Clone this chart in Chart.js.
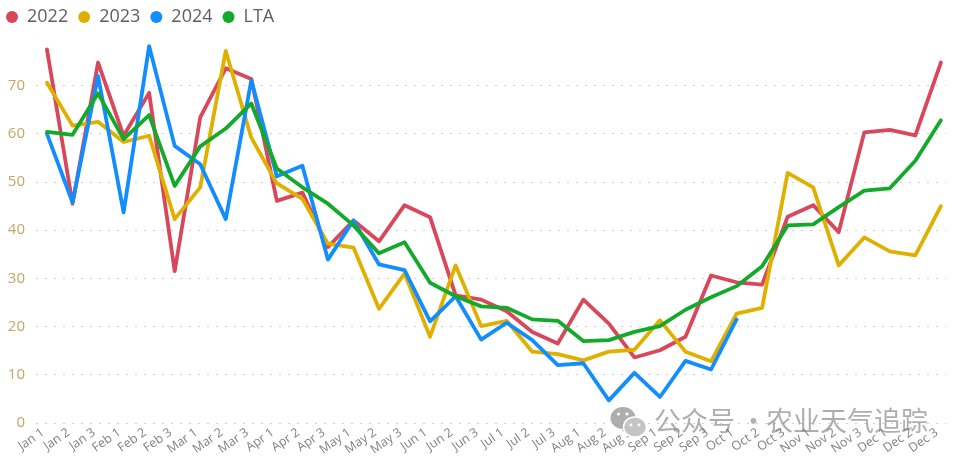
<!DOCTYPE html>
<html>
<head>
<meta charset="utf-8">
<style>
  body { margin: 0; background: #fff; }
  #wrap { position: relative; width: 960px; height: 460px; overflow: hidden; }
  #mark { position: absolute; left: 610px; top: 402px; height: 36px; width: 340px; color: rgba(120,120,120,.6);
          font: 27px "Noto Sans CJK SC", sans-serif; line-height: 36px; white-space: nowrap; }
  #mark svg { position: absolute; left: 0; top: 2px; }
  #mark span { position: absolute; top: 0; }
</style>
<script src="https://cdn.jsdelivr.net/npm/chart.js@4/dist/chart.umd.js"></script>
</head>
<body>
<div id="wrap">
  <canvas id="chartCanvas" width="960" height="460"></canvas>
  <div id="mark">
    <svg width="42" height="34" viewBox="0 0 42 34">
      <ellipse cx="13" cy="14" rx="12.5" ry="11" fill="rgba(130,130,130,.65)"/>
      <ellipse cx="25" cy="23" rx="11.5" ry="10" fill="#c4c4c4" stroke="#fff" stroke-width="1.5"/>
      <circle cx="8.5" cy="10" r="1.6" fill="#fff"/><circle cx="17" cy="10" r="1.6" fill="#fff"/>
      <circle cx="21" cy="21" r="1.4" fill="#fff"/><circle cx="29" cy="21" r="1.4" fill="#fff"/>
    </svg>
    <span style="left:44px">公众号</span><span style="left:130px">·</span><span style="left:156px">农业天气追踪</span>
  </div>
</div>
<script>
const weeks = ['Jan 1','Jan 2','Jan 3','Feb 1','Feb 2','Feb 3','Mar 1','Mar 2','Mar 3','Apr 1','Apr 2','Apr 3',
  'May 1','May 2','May 3','Jun 1','Jun 2','Jun 3','Jul 1','Jul 2','Jul 3','Aug 1','Aug 2','Aug 3',
  'Sep 1','Sep 2','Sep 3','Oct 1','Oct 2','Oct 3','Nov 1','Nov 2','Nov 3','Dec 1','Dec 2','Dec 3'];
const yTicks = [0, 10, 20, 30, 40, 50, 60, 70];
const y2022 = [77.5,45.5,74.8,59.6,68.5,31.5,63.4,73.6,71.4,46.1,47.8,36.5,
  42,37.7,45.2,42.7,26.5,25.6,23.2,18.9,16.5,25.6,20.6,13.6,
  15.1,17.9,30.6,29.2,28.7,42.8,45.2,39.6,60.3,60.8,59.7,74.8];
const y2023 = [70.6,61.7,62.5,58.3,59.6,42.3,48.9,77.2,59.2,49.7,46.5,37.2,
  36.4,23.7,31,17.9,32.7,20.1,21.2,14.8,14.3,13,14.8,15.2,
  21.3,14.8,12.8,22.7,23.9,51.9,48.9,32.7,38.5,35.6,34.8,45];
const y2024 = [60,45.8,72,43.7,78.2,57.5,53.7,42.3,71.1,51.2,53.4,33.9,
  42,32.9,31.7,21.1,26.3,17.3,20.8,17.2,12,12.4,4.7,10.4,
  5.4,12.9,11.1,21.5];
const yLTA = [60.4,59.8,68.4,58.9,63.9,49.2,57.4,61.1,66.3,52.8,48.9,45.5,
  41,35.2,37.5,29.1,26.3,24.2,23.9,21.5,21.2,17,17.2,18.9,
  20.1,23.5,26.1,28.4,32.5,41,41.2,44.8,48.2,48.7,54.4,62.8];

// order: lower number is painted last, LTA sits on top
function line(label, values, color, order) {
  return {
    label,
    order,
    data: values.map((y, i) => ({ x: i, y })),
    borderColor: color,
    backgroundColor: color,
    borderWidth: 3.8,
    pointRadius: 0,
    pointStyle: 'circle',
    tension: 0,
    borderCapStyle: 'round',
    borderJoinStyle: 'round'
  };
}

new Chart(document.getElementById('chartCanvas').getContext('2d'), {
  type: 'line',
  data: {
    datasets: [
      line('2022', y2022, '#D9475A', 4),
      line('2023', y2023, '#E0B000', 3),
      line('2024', y2024, '#118DFF', 2),
      line('LTA', yLTA, '#13A92B', 1)
    ]
  },
  options: {
    responsive: false,
    animation: false,
    layout: { padding: { left: -4, right: 14, top: -2, bottom: 0 } },
    plugins: {
      tooltip: { enabled: false },
      legend: {
        position: 'top',
        align: 'start',
        labels: {
          usePointStyle: true,
          pointStyle: 'circle',
          boxWidth: 12,
          boxHeight: 8.49,
          padding: 10,
          color: '#5F5F5F',
          font: { family: '"Open Sans"', size: 18 },
          sort: (a, b) => a.datasetIndex - b.datasetIndex,
          generateLabels: c => Chart.defaults.plugins.legend.labels.generateLabels(c).map(l => ({ ...l, lineWidth: 0 }))
        }
      }
    },
    scales: {
      x: {
        type: 'linear',
        min: -0.43,
        max: 35.2,
        afterBuildTicks: s => { s.ticks = weeks.map((_, i) => ({ value: i })); },
        afterFit: s => { s.height = 37; },
        grid: { display: false },
        border: { display: false },
        ticks: {
          autoSkip: false,
          minRotation: 35,
          maxRotation: 35,
          padding: -6,
          labelOffset: -4,
          color: '#808080',
          font: { family: '"Open Sans"', size: 12.5 },
          callback: v => weeks[v]
        }
      },
      y: {
        min: 0,
        max: 80.3,
        afterBuildTicks: s => { s.ticks = yTicks.map(value => ({ value })); },
        afterFit: s => { s.width = 40; },
        grid: { color: '#CFCFCF', lineWidth: 1, drawTicks: false },
        border: { display: false, dash: [2, 7] },
        ticks: {
          padding: 11,
          color: '#C4A763',
          font: { family: '"Open Sans"', size: 15 }
        }
      }
    }
  }
});
</script>
</body>
</html>
